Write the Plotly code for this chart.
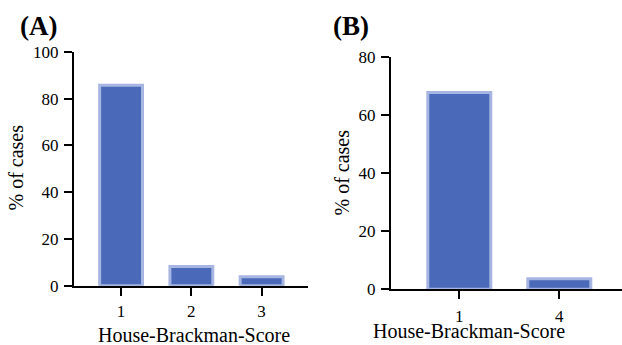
import plotly.graph_objects as go

W, H = 622, 345

cats_a = ["1", "2", "3"]
vals_a = [85.8, 8.2, 3.8]
cats_b = ["1", "4"]
vals_b = [67.7, 3.6]
yticks_a = [0, 20, 40, 60, 80, 100]
yticks_b = [0, 20, 40, 60, 80]

FILL = "#4a69b8"
EDGE = "#a6b5e2"
FONT = "Liberation Serif"

def px(x):
    return x / W

def py(y):
    return 1 - y / H

fig = go.Figure()
fig.add_trace(go.Bar(x=cats_a, y=vals_a, width=0.61, marker=dict(color=FILL, line=dict(color=EDGE, width=3)),
                     xaxis="x", yaxis="y", showlegend=False, hoverinfo="skip"))
fig.add_trace(go.Bar(x=cats_b, y=vals_b, width=0.63, marker=dict(color=FILL, line=dict(color=EDGE, width=3)),
                     xaxis="x2", yaxis="y2", showlegend=False, hoverinfo="skip"))

axis_common = dict(showline=True, linecolor="black", linewidth=2, ticks="outside", ticklen=8, tickwidth=2,
                   tickcolor="black", showgrid=False, zeroline=False, automargin=False,
                   tickfont=dict(family=FONT, size=17, color="black"))

fig.update_layout(
    width=W, height=H, margin=dict(l=0, r=0, t=0, b=0),
    paper_bgcolor="white", plot_bgcolor="white",
    xaxis=dict(domain=[px(74), px(308)], range=[-0.67, 2.66], anchor="y", type="category",
               ticklabelstandoff=1, **axis_common),
    yaxis=dict(domain=[py(285.7), py(52)], range=[0, 100], anchor="x", tickvals=yticks_a,
               ticklabelstandoff=2, **axis_common),
    xaxis2=dict(domain=[px(391), 1.0], range=[-0.683, 1.627], anchor="y2", type="category",
                ticklabelstandoff=2, **axis_common),
    yaxis2=dict(domain=[py(289.3), py(56.7)], range=[0, 80], anchor="x2", tickvals=yticks_b,
                ticklabelstandoff=2, **axis_common),
    bargap=0.3,
)

ann = []
def add_text(text, x, y, size, bold=False, angle=0, height=None):
    a = dict(text=("<b>%s</b>" % text) if bold else text, x=px(x), y=py(y), xref="paper", yref="paper",
             xanchor="center", yanchor="middle", showarrow=False, textangle=angle,
             font=dict(family=FONT, size=size, color="black"))
    if height is not None:
        a["height"] = height
    ann.append(a)

add_text("(A)", 38.5, 25.5, 27, bold=True)
add_text("(B)", 351, 25.5, 27, bold=True)
add_text("% of cases", 15.5, 168, 20, angle=-90)
add_text("% of cases", 341, 172.5, 20, angle=-90)
add_text("House-Brackman-Score", 194, 334.5, 20, height=20)
add_text("House-Brackman-Score", 468.5, 331, 20, height=14)
fig.update_layout(annotations=ann)

fig.write_html("out.html", config={"displayModeBar": False},
               post_script="document.body.style.margin='0';document.body.style.overflow='hidden';")
